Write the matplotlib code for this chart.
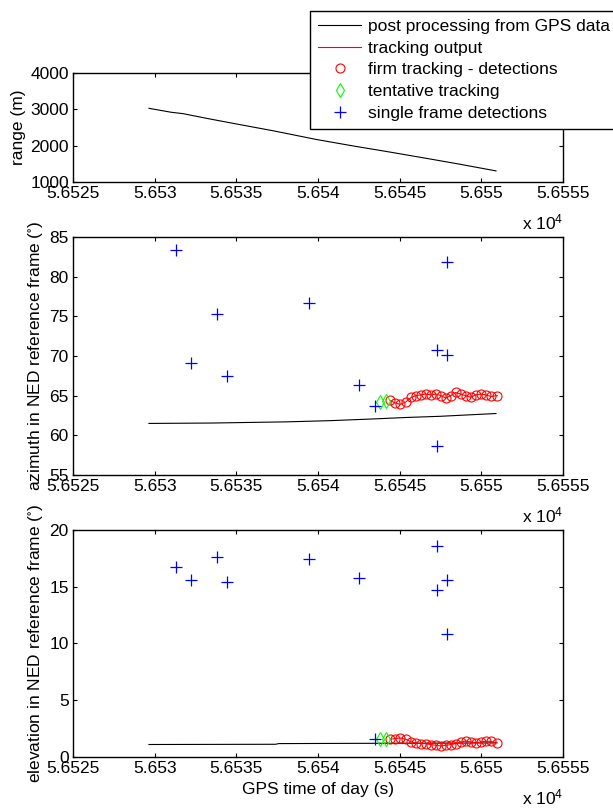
import numpy as np
import matplotlib
matplotlib.use("Agg")
import matplotlib.pyplot as plt

plt.rcParams['font.family'] = ['Liberation Sans', 'DejaVu Sans']
plt.rcParams['font.size'] = 12.5
plt.rcParams['mathtext.fontset'] = 'custom'
plt.rcParams['mathtext.rm'] = 'Liberation Sans'
plt.rcParams['mathtext.default'] = 'regular'

# ---------- data (GPS time of day in seconds) ----------
gps_t = [56529.65, 56530.5, 56531.0, 56531.75, 56533.2, 56534.85, 56537.25,
         56539.9, 56542.05, 56544.45, 56546.9, 56548.55, 56550.9]
gps_range = [3028, 2960, 2920, 2880, 2750, 2610, 2410, 2170, 2000, 1820, 1630,
             1500, 1305]

gps_az_t = [56529.65, 56533.5, 56538.1, 56540.75, 56543.2, 56545.4, 56547.5, 56550.9]
gps_az = [61.5, 61.55, 61.7, 61.85, 62.05, 62.25, 62.4, 62.75]

gps_el_t = [56529.65, 56537.4, 56537.6, 56550.9]
gps_el = [1.1, 1.12, 1.18, 1.24]

firm_t = [56544.42, 56544.70, 56545.03, 56545.38, 56545.72, 56546.01, 56546.29,
          56546.60, 56546.90, 56547.21, 56547.52, 56547.82, 56548.13, 56548.43,
          56548.74, 56549.04, 56549.35, 56549.65, 56549.96, 56550.26, 56550.57,
          56550.98]
firm_az = [64.4, 64.1, 63.9, 64.2, 64.8, 65.0, 65.1, 65.2, 65.1, 65.2, 65.0,
           64.7, 65.0, 65.4, 65.2, 65.0, 64.8, 65.1, 65.2, 65.1, 64.9, 65.0]
firm_el = [1.56, 1.62, 1.68, 1.56, 1.32, 1.24, 1.18, 1.18, 1.09, 1.03, 0.97,
           1.03, 1.09, 1.18, 1.32, 1.41, 1.32, 1.26, 1.32, 1.38, 1.38, 1.24]

tent_t = [56543.81, 56544.16]
tent_az = [64.2, 64.3]
tent_el = [1.56, 1.56]

single_t = [56531.31, 56532.24, 56533.83, 56534.44, 56539.43, 56542.53,
            56543.50, 56547.27, 56547.27, 56547.88, 56547.88]
single_az = [83.4, 69.1, 75.35, 67.5, 76.7, 66.3, 63.7, 70.7, 58.65, 81.8, 70.1]
single_el = [16.7, 15.6, 17.6, 15.4, 17.4, 15.8, 1.56, 18.6, 14.7, 15.6, 10.8]

xticks = [56525, 56530, 56535, 56540, 56545, 56550, 56555]

fig = plt.figure(figsize=(6.13, 8.11), dpi=100)
ax1 = fig.add_axes([0.1191, 0.7756, 0.7993, 0.1344])
ax2 = fig.add_axes([0.1191, 0.4143, 0.7993, 0.2935])
ax3 = fig.add_axes([0.1191, 0.0666, 0.7993, 0.2799])

ax1.plot(gps_t, gps_range, color='k', lw=0.8)
ax1.set_ylim(1000, 4000)
ax1.set_yticks([1000, 2000, 3000, 4000])
ax1.set_ylabel('range (m)', labelpad=3)

handles = []
for ax, g_t, g_v, fv, tv, sv in [(ax2, gps_az_t, gps_az, firm_az, tent_az, single_az),
                                  (ax3, gps_el_t, gps_el, firm_el, tent_el, single_el)]:
    h1, = ax.plot(g_t, g_v, color='k', lw=0.8, label='post processing from GPS data')
    h2, = ax.plot(firm_t, fv, color='r', lw=0.8, label='tracking output')
    h3, = ax.plot(firm_t, fv, 'o', mfc='none', mec='r', ms=6.5, mew=0.8,
                  label='firm tracking - detections')
    h4, = ax.plot(tent_t, tv, 'd', mfc='none', mec=(0, 1, 0), ms=7.5, mew=0.8,
                  label='tentative tracking')
    h5, = ax.plot(single_t, sv, '+', color='b', ms=8, mew=0.9,
                  label='single frame detections')
    handles = [h1, h2, h3, h4, h5]

ax2.set_ylim(55, 85)
ax2.set_yticks(np.arange(55, 86, 5))
ax2.set_ylabel(r'azimuth in NED reference frame ($^{\circ}$)', labelpad=3)
ax3.set_ylim(0, 20)
ax3.set_yticks([0, 5, 10, 15, 20])
ax3.set_ylabel(r'elevation in NED reference frame ($^{\circ}$)', labelpad=3)
ax3.set_xlabel('GPS time of day (s)', labelpad=4)

for ax in (ax1, ax2, ax3):
    ax.set_xlim(56525, 56555)
    ax.set_xticks(xticks)
    ax.set_xticklabels([f"{v / 1e4:.5g}" for v in xticks])
    ax.tick_params(direction='in', top=True, right=True, length=3, width=0.8, pad=3)
    for s in ax.spines.values():
        s.set_linewidth(1.0)
    ax.annotate(r'x 10$^4$', xy=(1, 0), xycoords='axes fraction',
                xytext=(0, -34), textcoords='offset points',
                ha='right', va='baseline')

leg = fig.legend(handles=handles, loc='upper left',
                 bbox_to_anchor=(310 / 613, 1 - 11 / 811), borderaxespad=0,
                 fancybox=False, framealpha=1, edgecolor='k', handlelength=2.5,
                 handletextpad=0.4, labelspacing=0.38, borderpad=0.45)
leg.get_frame().set_linewidth(1.0)

fig.savefig('out.png', dpi=100)
